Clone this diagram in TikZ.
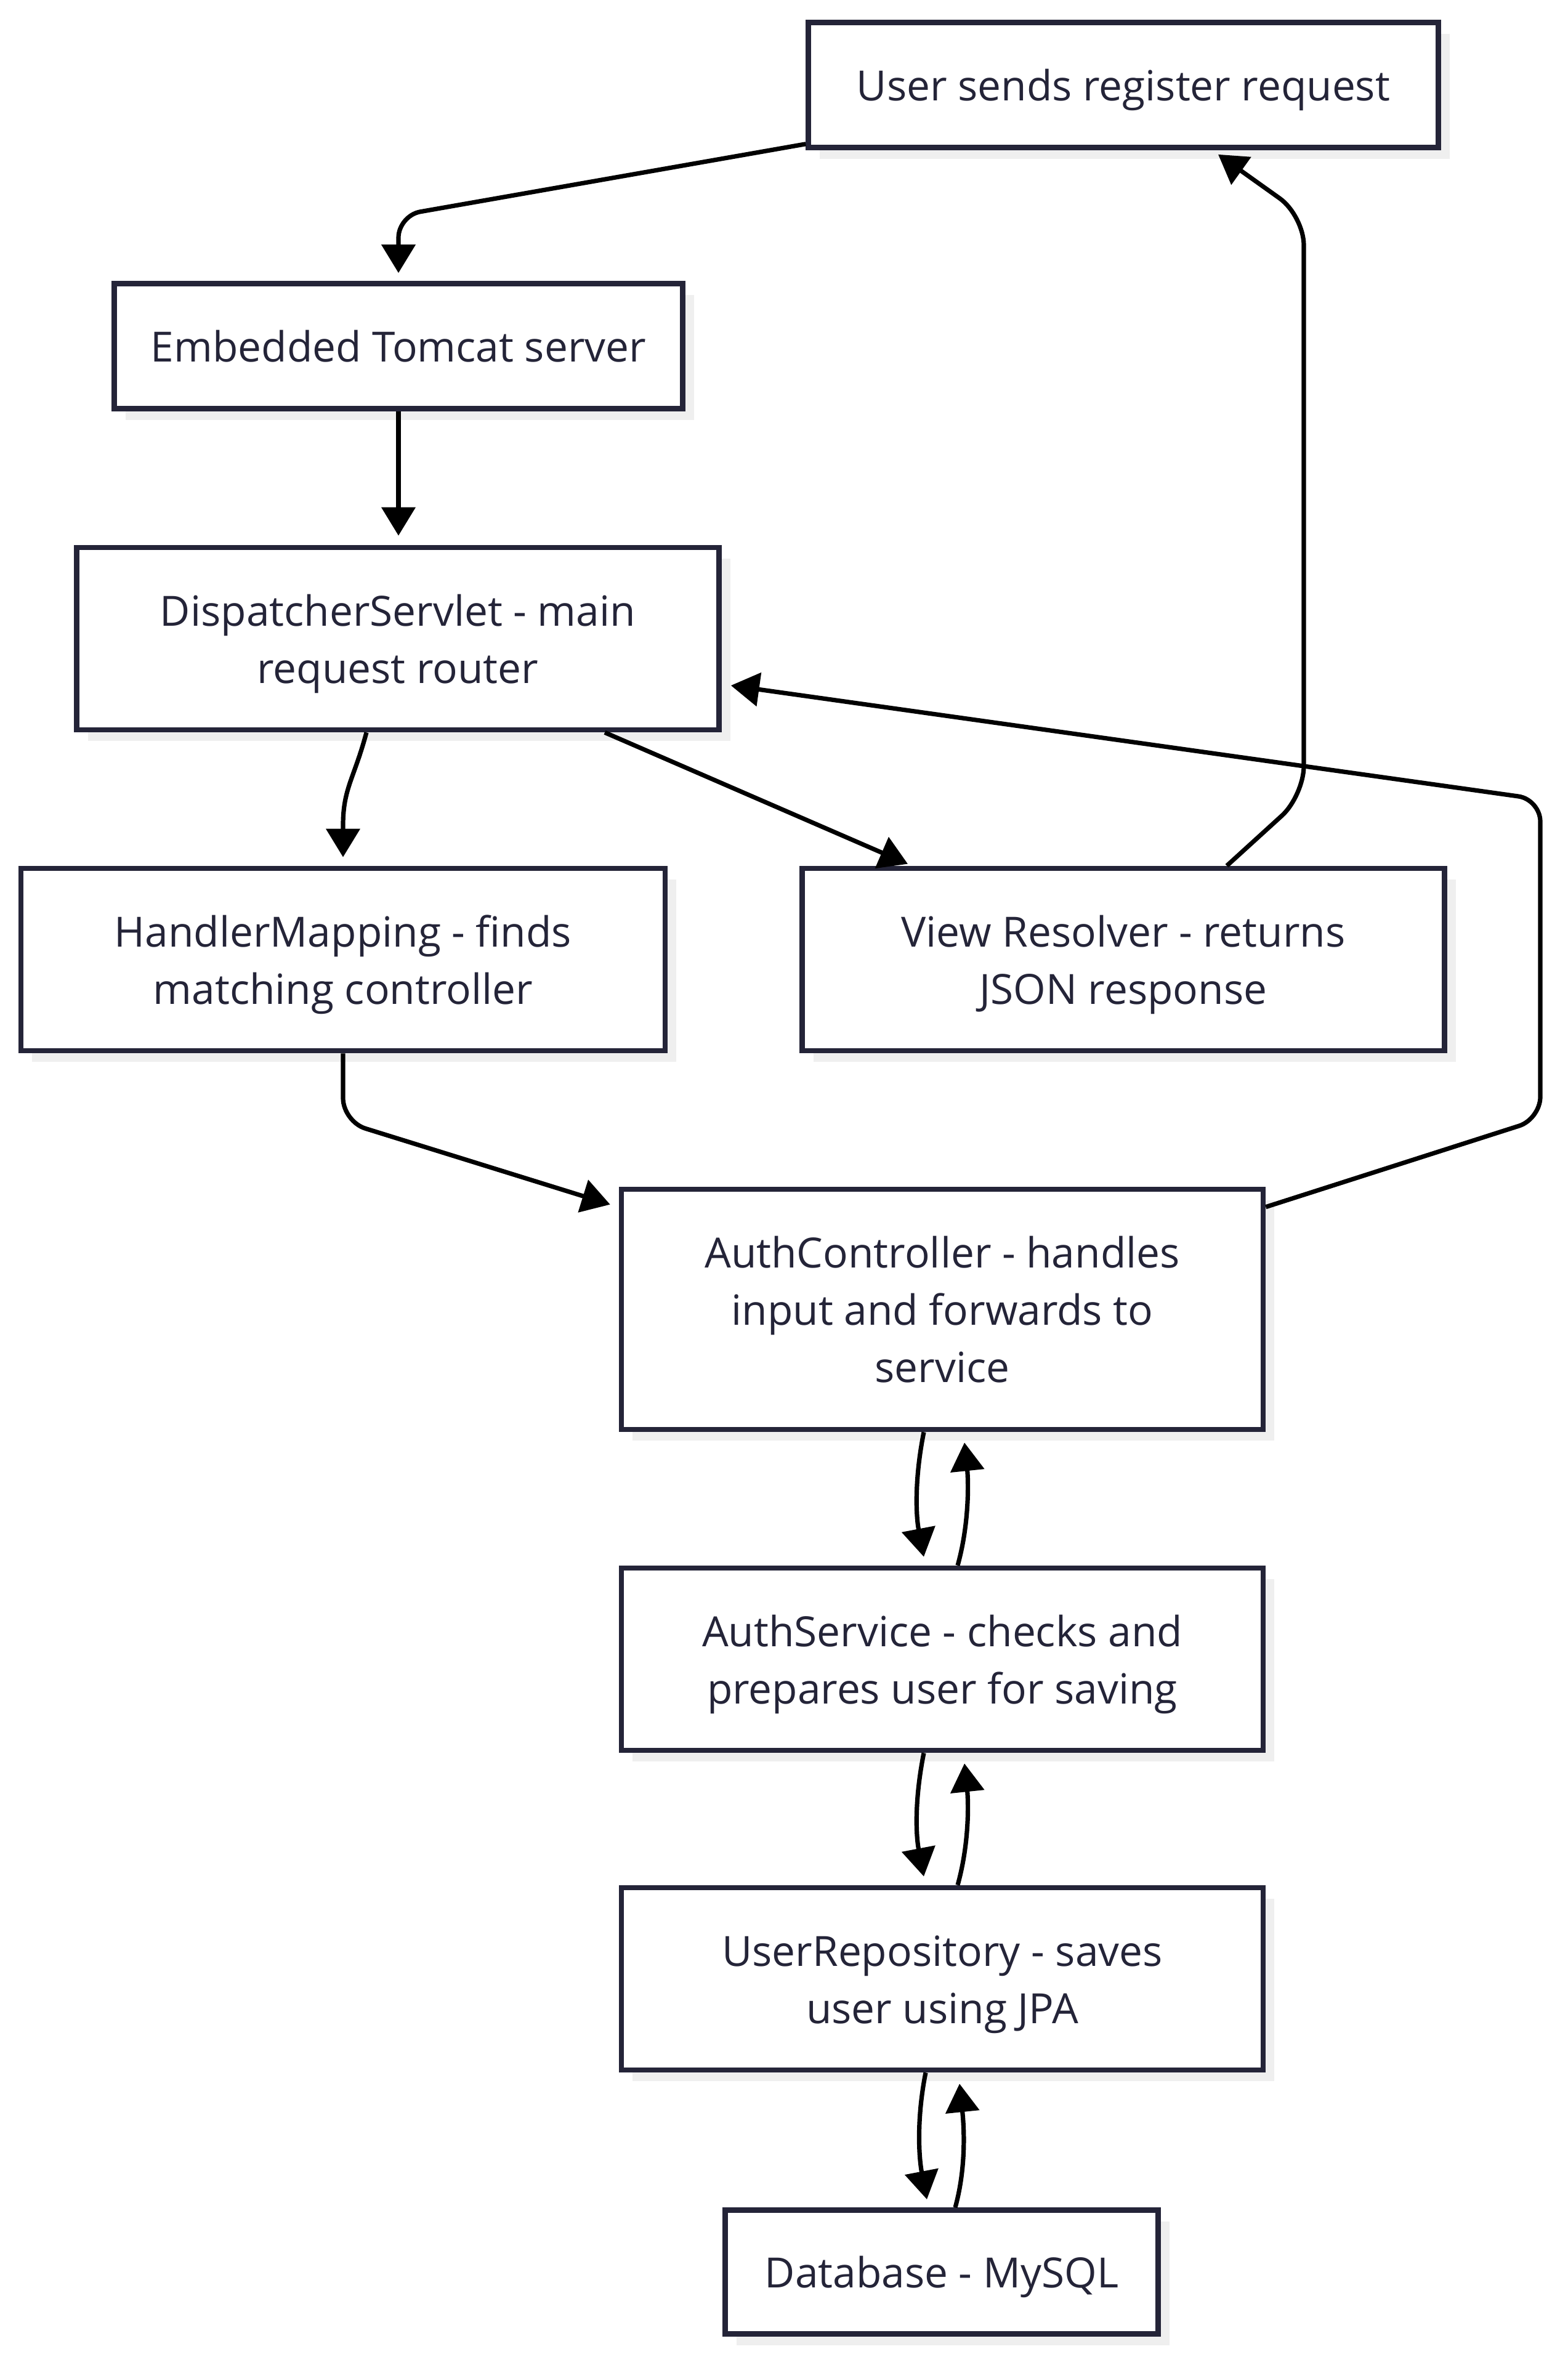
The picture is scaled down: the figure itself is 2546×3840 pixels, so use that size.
\documentclass[tikz,border=0pt]{standalone}
\usepackage{fontspec}
\setmainfont{Open Sans}
\usetikzlibrary{arrows.meta,shadows,calc}
\definecolor{ink}{HTML}{242438}
\definecolor{shade}{HTML}{EFEFEF}
\begin{document}
\begin{tikzpicture}[x=0.5pt,y=-0.5pt,
  box/.style={draw=ink, line width=4.3pt, fill=white, align=center, text=ink,
    font=\fontsize{33.8pt}{46.5pt}\selectfont, inner sep=0pt, text depth=0pt,
    drop shadow={shadow xshift=9pt,shadow yshift=-9pt,fill=shade,opacity=1}},
  oneline/.style={text height=25.9pt},
  twolines/.style={text height=72.4pt},
  threelines/.style={text height=118.9pt},
  conn/.style={line width=3.6pt, draw=black, -{Triangle[length=23pt,width=27pt]}}]
\useasboundingbox (0,0) rectangle (2546,3840);

\node[box,oneline,minimum width=511.5pt,minimum height=101.5pt] (user) at (1824,138) {User sends register request};
\node[box,oneline,minimum width=461.5pt,minimum height=101.5pt] (tomcat) at (647,562) {Embedded Tomcat server};
\node[box,twolines,minimum width=521.5pt,minimum height=148pt] (disp) at (646,1037) {DispatcherServlet - main\\request router};
\node[box,twolines,minimum width=523pt,minimum height=148pt] (hm) at (557,1558) {HandlerMapping - finds\\matching controller};
\node[box,twolines,minimum width=521.5pt,minimum height=148pt] (vr) at (1824,1558) {View Resolver - returns\\JSON response};
\node[box,threelines,minimum width=521pt,minimum height=195pt] (ac) at (1530,2126) {AuthController - handles\\input and forwards to\\service};
\node[box,twolines,minimum width=521pt,minimum height=148pt] (as) at (1530,2694) {AuthService - checks and\\prepares user for saving};
\node[box,twolines,minimum width=521pt,minimum height=148pt] (ur) at (1530,3213) {UserRepository - saves\\user using JPA};
\node[box,oneline,minimum width=351.5pt,minimum height=100.5pt] (db) at (1529,3689) {Database - MySQL};

% User -> Tomcat
\draw[conn,rounded corners=18pt] ($(user.south west)+(0,-10)$) -- (tomcat.north |- 0,350) -- ($(tomcat.north)+(0,-13)$);
% Tomcat -> Dispatcher
\draw[conn] (tomcat.south) -- ($(tomcat.south |- disp.north)+(0,-15)$);
% Dispatcher -> HandlerMapping
\draw[conn] ($(disp.south)+(-51,0)$) .. controls +(-20,75) and +(0,-60) .. (hm.north |- 0,1340) -- ($(hm.north)+(0,-14)$);
% Dispatcher -> View Resolver
\draw[conn] ($(disp.south)+(336,0)$) -- ($(vr.north)+(-350,-3)$);
% View Resolver -> User
\draw[conn,rounded corners=24pt] ($(vr.north)+(168,0)$) -- (2117,1292) -- (2117,350) -- ($(user.south)+(154,7)$);
% HandlerMapping -> AuthController
\draw[conn,rounded corners=19pt] (hm.south) -- (hm.south |- 0,1821) -- ($(ac.north west)+(-14,29)$);
% AuthController -> Dispatcher
\draw[conn,rounded corners=18pt] ($(ac.north east)+(0,33)$) -- (2501,1817) -- (2501,1298) -- ($(disp.east)+(15,76)$);

% AuthController <-> AuthService
\draw[conn] ($(ac.south)+(-30,0)$) .. controls +(-15,75) and +(-13,-68) .. ($(as.north)+(-30,-14)$);
\draw[conn] ($(as.north)+(25,0)$) .. controls +(20,-72) and +(6,58) .. ($(ac.south)+(36,17)$);
% AuthService <-> UserRepository
\draw[conn] ($(as.south)+(-30,0)$) .. controls +(-15,75) and +(-13,-68) .. ($(ur.north)+(-30,-14)$);
\draw[conn] ($(ur.north)+(25,0)$) .. controls +(20,-72) and +(6,58) .. ($(as.south)+(36,17)$);
% UserRepository <-> Database
\draw[conn] ($(ur.south)+(-27,0)$) .. controls +(-15,75) and +(-13,-68) .. ($(db.north |- 0,3571)+(-24,0)$);
\draw[conn] ($(db.north)+(22,0)$) .. controls +(20,-72) and +(6,58) .. ($(ur.south)+(28,18)$);
\end{tikzpicture}
\end{document}
